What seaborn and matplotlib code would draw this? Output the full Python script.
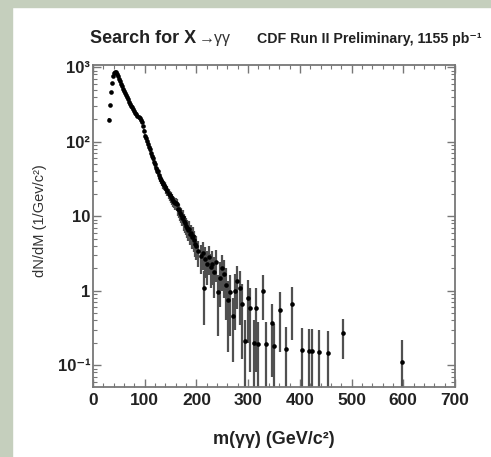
import numpy as np
import pandas as pd
import seaborn as sns
import matplotlib.pyplot as plt
from matplotlib.patches import Rectangle
from matplotlib.ticker import FixedLocator, FixedFormatter, MultipleLocator

# dense part of the spectrum, 2 GeV bins
mass_lo = [30, 32, 34, 36, 38, 40, 42, 44, 46, 48,
           50, 52, 54, 56, 58, 60, 62, 64, 66, 68,
           70, 72, 74, 76, 78, 80, 82, 84, 86, 88,
           90, 92, 94, 96, 98, 100, 102, 104, 106, 108,
           110, 112, 114, 116, 118, 120, 122, 124, 126, 128,
           130, 132, 134, 136, 138, 140, 142, 144, 146, 148,
           150, 152, 154, 156, 158, 160, 162, 164, 166, 168,
           170, 172, 174, 176, 178, 180, 182, 184, 186, 188,
           190, 192, 194, 196, 198, 200]
dndm_lo = [195, 310, 470, 620, 760, 840, 870, 850, 810, 760,
           705, 660, 600, 555, 515, 480, 450, 420, 395, 372,
           345, 325, 305, 290, 272, 258, 245, 232, 222, 212,
           205, 196, 185, 160, 140, 120, 112, 102, 94, 86,
           80, 70, 65, 60, 54, 50, 45, 41, 40, 36,
           33, 31, 29, 27, 26, 25, 23, 22, 20, 19,
           18, 17, 16, 15.5, 15, 15, 14.5, 12.5, 12, 11,
           10.5, 9.5, 9.8, 8.5, 8, 7.5, 7, 6.5, 6.8, 5.8,
           6, 5.2, 5.5, 4.8, 4.2, 4.0]
err_lo = [10, 12, 15, 18, 19, 20, 21, 21, 20, 19,
          19, 18, 17, 17, 16, 15, 15, 14, 14, 14,
          13, 13, 12, 12, 12, 11, 11, 11, 10, 10,
          10, 10, 10, 9, 8, 8, 7.5, 7, 7, 6.5,
          6.3, 6, 5.7, 5.5, 5.2, 5, 4.7, 4.5, 4.5, 4.2,
          4, 3.9, 3.8, 3.7, 3.6, 3.5, 3.4, 3.3, 3.2, 3.1,
          3, 2.9, 2.8, 2.8, 2.7, 2.7, 2.6, 2.5, 2.4, 2.3,
          2.3, 2.2, 2.2, 2.1, 2, 1.9, 1.9, 1.8, 1.8, 1.7,
          1.7, 1.6, 1.7, 1.5, 1.4, 1.4]

# sparse tail
mass_hi = [204, 208, 212, 214, 216, 220, 224, 228, 230, 234,
           238, 242, 246, 250, 254, 258, 261, 264, 271, 275,
           279, 284, 288, 294, 300, 304, 312, 316, 320, 329,
           334, 346, 350, 361, 374, 385, 404, 418, 423, 437,
           454, 483, 598]
dndm_hi = [3.4, 2.9, 3.2, 1.1, 2.7, 2.3, 2.8, 2.1, 2.3, 1.8,
           2.4, 0.95, 1.5, 2.0, 1.7, 1.2, 0.75, 0.95, 0.46, 1.0,
           1.36, 1.1, 0.67, 0.21, 0.8, 0.58, 0.2, 0.58, 0.19, 1.0,
           0.19, 0.37, 0.18, 0.55, 0.165, 0.67, 0.16, 0.155, 0.155, 0.15,
           0.146, 0.27, 0.11]
err_hi = [1.3, 1.2, 1.3, 0.75, 1.2, 1.1, 1.2, 1.0, 1.1, 1.0,
          1.1, 0.7, 0.9, 1.0, 0.9, 0.8, 0.6, 0.7, 0.35, 0.7,
          0.8, 0.75, 0.55, 0.2, 0.6, 0.5, 0.2, 0.5, 0.19, 0.6,
          0.19, 0.3, 0.18, 0.4, 0.165, 0.45, 0.16, 0.155, 0.155, 0.15,
          0.146, 0.15, 0.105]

y_ticks = [0.1, 1, 10, 100, 1000]
y_tick_labels = ['10⁻¹', '1', '10', '10²', '10³']

df = pd.DataFrame({
    'mass': mass_lo + mass_hi,
    'dndm': dndm_lo + dndm_hi,
    'err': err_lo + err_hi,
})

sns.set_theme(style='ticks')
plt.rcParams['font.family'] = ['Liberation Sans', 'DejaVu Sans']

fig = plt.figure(figsize=(4.91, 4.57), dpi=100, facecolor='white')
# greenish frame around the picture (left and top strips)
fig.patches.append(Rectangle((0, 0), 12 / 491, 1, transform=fig.transFigure,
                             color='#c5cfbd', zorder=0))
fig.patches.append(Rectangle((0, 1 - 7 / 457), 1, 7 / 457, transform=fig.transFigure,
                             color='#c5cfbd', zorder=0))

ax = fig.add_axes([93 / 491, 70 / 457, 362 / 491, 322 / 457])
ax.set_yscale('log')

ax.errorbar(df['mass'], df['dndm'], yerr=df['err'], fmt='none',
            ecolor='#505050', elinewidth=1.6, capsize=0, zorder=2)
sns.scatterplot(data=df, x='mass', y='dndm', ax=ax, color='black',
                s=11, linewidth=0, zorder=3, legend=False)

ax.set_xlim(0, 700)
ax.set_ylim(0.051, 1070)
ax.set_xlabel('')
ax.set_ylabel('')

ax.xaxis.set_major_locator(MultipleLocator(100))
ax.xaxis.set_minor_locator(MultipleLocator(20))
ax.yaxis.set_major_locator(FixedLocator(y_ticks))
ax.yaxis.set_major_formatter(FixedFormatter(y_tick_labels))

ax.tick_params(which='both', direction='in', top=True, right=True,
               colors='#777777', labelcolor='#222222')
ax.tick_params(which='major', length=6, width=1.0)
ax.tick_params(which='minor', length=3, width=0.8)
ax.tick_params(axis='x', which='major', labelsize=12.5, pad=4)
ax.tick_params(axis='y', which='major', labelsize=12, pad=2)
for lab in ax.get_xticklabels() + ax.get_yticklabels():
    lab.set_fontweight('bold')

for sp in ax.spines.values():
    sp.set_color('#777777')
    sp.set_linewidth(1.3)

title_y = 1 - 43 / 457
fig.text(90 / 491, title_y, 'Search for X', fontsize=13,
         fontweight='bold', color='#222222', va='baseline')
fig.text(199 / 491, title_y, '→γγ', fontsize=11.5, color='#333333', va='baseline')
fig.text(257 / 491, title_y, 'CDF Run II Preliminary, 1155 pb⁻¹', fontsize=10.2,
         fontweight='bold', color='#222222', va='baseline')

fig.text(40 / 491, 1 - 221 / 457, 'dN/dM (1/Gev/c²)', rotation=90, fontsize=10.5,
         color='#333333', ha='center', va='center')
fig.text(274 / 491, 1 - 440 / 457, 'm(γγ) (GeV/c²)', fontsize=13,
         fontweight='bold', color='#222222', ha='center', va='center')

fig.savefig('out.png', dpi=100, facecolor='white')
